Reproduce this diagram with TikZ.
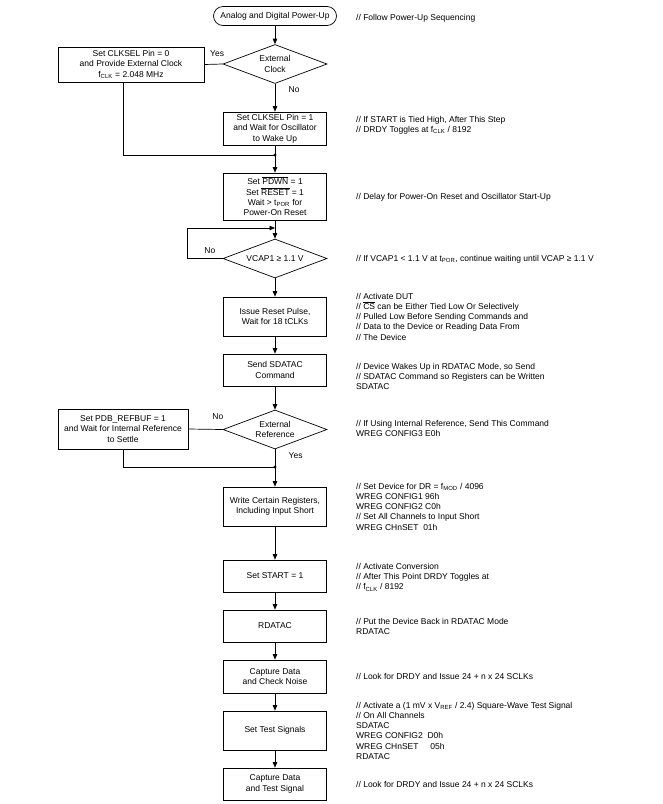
\documentclass[tikz,border=0pt]{standalone}
\usepackage{fontspec}
\setmainfont{Liberation Sans}
\usetikzlibrary{shapes.geometric, arrows.meta}

\newcommand{\subtxt}[1]{\textsubscript{#1}}
\newcommand{\barsig}[1]{$\overline{\mbox{#1}}$}

\begin{document}
\begin{tikzpicture}[x=1pt, y=-1pt,
    font=\fontsize{8.5}{10.3}\selectfont,
    stepbox/.style={draw, line width=0.7pt, align=center, inner sep=1pt, minimum width=103pt},
    sidebox/.style={draw, line width=0.7pt, align=center, inner sep=1pt},
    decide/.style={draw, line width=0.7pt, diamond, aspect=2.67, align=center, inner sep=0pt, minimum width=104pt, minimum height=39pt},
    terminal/.style={draw, line width=0.7pt, rounded corners=9.5pt, minimum width=123pt, minimum height=19pt, inner sep=1pt},
    note/.style={anchor=base west, align=left, inner sep=0pt},
    flow/.style={line width=0.7pt, -{Triangle[length=5.5pt, width=4.5pt]}},
    link/.style={line width=0.7pt}]

    \useasboundingbox (0,0) rectangle (663,804);

    % Main column of steps
    \node[terminal] (power) at (275, 16) {Analog and Digital Power-Up};
    \node[decide] (clk) at (275, 64) {External\\Clock};
    \node[stepbox, minimum height=33pt] (clksel) at (275, 128.5) {Set CLKSEL Pin = 1\\and Wait for Oscillator\\to Wake Up};
    \node[stepbox, minimum height=47pt] (pdwn) at (275, 196.5) {Set \barsig{PDWN} = 1\\Set \barsig{RESET} = 1\\Wait > t\subtxt{POR} for\\Power-On Reset};
    \node[decide] (vcap) at (275, 258.5) {VCAP1 ≥ 1.1 V};
    \node[stepbox, minimum height=39pt] (rst) at (275, 316.5) {Issue Reset Pulse,\\Wait for 18 tCLKs};
    \node[stepbox, minimum height=32pt] (sdatac) at (275, 370) {Send SDATAC\\Command};
    \node[decide] (ref) at (275, 429.5) {External\\Reference};
    \node[stepbox, minimum height=39pt] (wreg) at (275, 506.5) {Write Certain Registers,\\Including Input Short};
    \node[stepbox, minimum height=32pt] (start) at (275, 576) {Set START = 1};
    \node[stepbox, minimum height=32pt] (rdatac) at (275, 626) {RDATAC};
    \node[stepbox, minimum height=33pt] (noise) at (275, 676.5) {Capture Data\\and Check Noise};
    \node[stepbox, minimum height=39pt] (testsig) at (275, 730.5) {Set Test Signals};
    \node[stepbox, minimum height=32pt] (capture) at (275, 784) {Capture Data\\and Test Signal};

    % Side branches
    \node[sidebox, minimum width=146pt, minimum height=35pt] (extclk) at (131, 64.5) {Set CLKSEL Pin = 0\\and Provide External Clock\\f\subtxt{CLK} = 2.048 MHz};
    \node[sidebox, minimum width=130pt, minimum height=40pt] (refbuf) at (123, 429) {Set PDB\_REFBUF = 1\\and Wait for Internal Reference\\to Settle};

    % Join points
    \coordinate (j1) at (275, 155);
    \coordinate (d1) at (123, 155);
    \coordinate (j2) at (275, 467);
    \coordinate (loopc) at (187, 228);
    \coordinate (loopin) at (275, 228);

    % Connectors
    \draw[flow] (power) -- (clk);
    \draw[link] (clk.west) -- node[pos=0.3, above=4pt] {Yes} (extclk.east);
    \draw[flow] (clk) -- node[pos=0.2, right=10pt] {No} (clksel);
    \draw[link] (clksel) -- (j1);
    \draw[link] (extclk.south -| d1) -- (d1) -- (j1);
    \fill (j1) circle (1.6pt);
    \draw[flow] (j1) -- (pdwn);
    \draw[flow] (pdwn) -- (vcap);
    \draw[flow] (vcap.west) -| node[pos=0.18, above=1pt] {No} (loopc) -- (loopin);
    \draw[flow] (vcap) -- (rst);
    \draw[flow] (rst) -- (sdatac);
    \draw[flow] (sdatac) -- (ref);
    \draw[link] (ref.west) -- node[pos=0.14, above=6pt] {No} (refbuf.east);
    \draw[link] (ref) -- node[pos=0.35, right=10pt] {Yes} (j2);
    \draw[link] (refbuf) |- (j2);
    \fill (j2) circle (1.6pt);
    \draw[flow] (j2) -- (wreg);
    \draw[flow] (wreg) -- (start);
    \draw[flow] (start) -- (rdatac);
    \draw[flow] (rdatac) -- (noise);
    \draw[flow] (noise) -- (testsig);
    \draw[flow] (testsig) -- (capture);

    % Comments on the right (placed by the baseline of their last line)
    \node[note] (c0) at (356, 20) {// Follow Power-Up Sequencing};
    \node[note] (c1) at (356, 132.3) {// If START is Tied High, After This Step\\// DRDY Toggles at f\subtxt{CLK} / 8192};
    \node[note] (c2) at (356, 199) {// Delay for Power-On Reset and Oscillator Start-Up};
    \node[note] (c3) at (356, 261) {// If VCAP1 < 1.1 V at t\subtxt{POR}, continue waiting until VCAP ≥ 1.1 V};
    \node[note] (c4) at (356, 340.2) {// Activate DUT\\// \barsig{CS} can be Either Tied Low Or Selectively\\// Pulled Low Before Sending Commands and\\// Data to the Device or Reading Data From\\// The Device};
    \node[note] (c5) at (356, 389.6) {// Device Wakes Up in RDATAC Mode, so Send\\// SDATAC Command so Registers can be Written\\SDATAC};
    \node[note] (c6) at (356, 436.3) {// If Using Internal Reference, Send This Command\\WREG CONFIG3 E0h};
    \node[note] (c7) at (356, 530.2) {// Set Device for DR = f\subtxt{MOD} / 4096\\WREG CONFIG1 96h\\WREG CONFIG2 C0h\\// Set All Channels to Input Short\\WREG CHnSET\ \ 01h};
    \node[note] (c8) at (356, 589.6) {// Activate Conversion\\// After This Point DRDY Toggles at\\// f\subtxt{CLK} / 8192};
    \node[note] (c9) at (356, 634.3) {// Put the Device Back in RDATAC Mode\\RDATAC};
    \node[note] (c10) at (356, 679) {// Look for DRDY and Issue 24 + n x 24 SCLKs};
    \node[note] (c11) at (356, 759.5) {// Activate a (1 mV x V\subtxt{REF} / 2.4) Square-Wave Test Signal\\// On All Channels\\SDATAC\\WREG CONFIG2\ \ D0h\\WREG CHnSET\ \ \ \ \ 05h\\RDATAC};
    \node[note] (c12) at (356, 787) {// Look for DRDY and Issue 24 + n x 24 SCLKs};

\end{tikzpicture}
\end{document}
